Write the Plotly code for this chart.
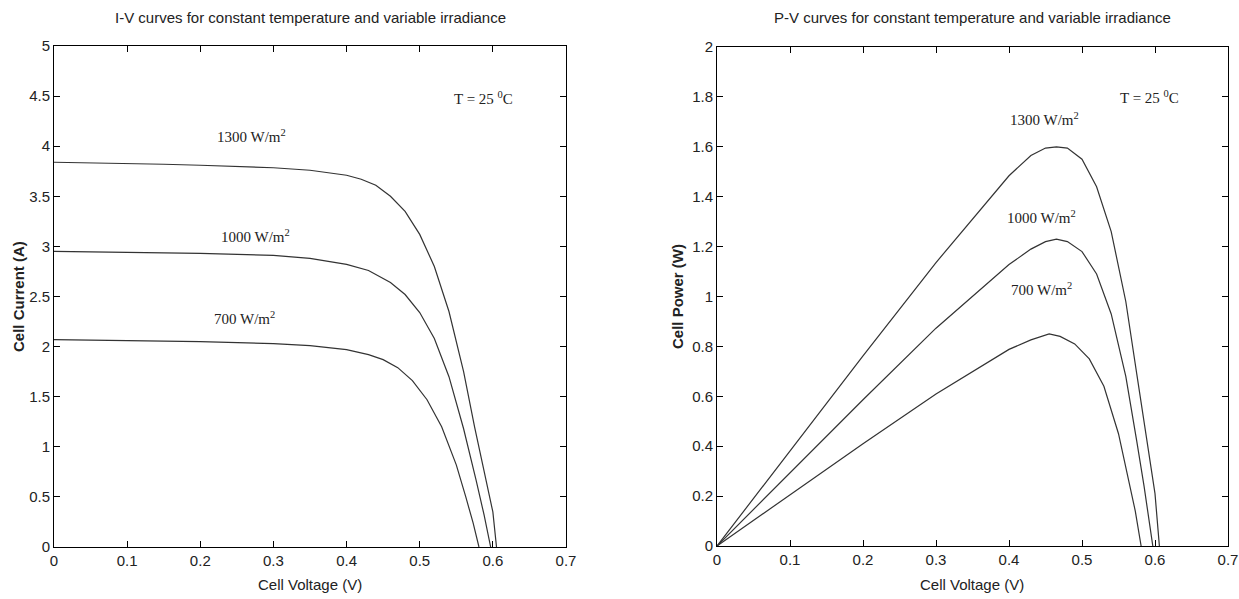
import plotly.graph_objects as go

# ---- data ----
v_iv_1300 = [0, 0.05, 0.1, 0.15, 0.2, 0.25, 0.3, 0.35, 0.4, 0.42, 0.44, 0.46, 0.48, 0.50, 0.52, 0.54, 0.56, 0.575, 0.59, 0.60, 0.605]
i_1300 = [3.84, 3.835, 3.83, 3.82, 3.81, 3.80, 3.785, 3.76, 3.71, 3.67, 3.61, 3.50, 3.35, 3.12, 2.80, 2.35, 1.75, 1.20, 0.67, 0.35, 0]

v_iv_1000 = [0, 0.1, 0.2, 0.3, 0.35, 0.4, 0.43, 0.46, 0.48, 0.50, 0.52, 0.54, 0.56, 0.577, 0.588, 0.597]
i_1000 = [2.95, 2.94, 2.93, 2.91, 2.88, 2.82, 2.76, 2.64, 2.52, 2.34, 2.08, 1.70, 1.18, 0.67, 0.32, 0]

v_iv_700 = [0, 0.1, 0.2, 0.3, 0.35, 0.4, 0.43, 0.45, 0.47, 0.49, 0.51, 0.53, 0.55, 0.563, 0.573, 0.581]
i_700 = [2.07, 2.06, 2.05, 2.03, 2.01, 1.97, 1.92, 1.87, 1.79, 1.66, 1.47, 1.20, 0.82, 0.50, 0.24, 0]

v_pv_1300 = [0, 0.1, 0.2, 0.3, 0.4, 0.43, 0.45, 0.465, 0.48, 0.50, 0.52, 0.54, 0.56, 0.575, 0.59, 0.60, 0.606]
p_1300 = [0, 0.383, 0.762, 1.136, 1.484, 1.565, 1.595, 1.60, 1.595, 1.55, 1.44, 1.26, 0.98, 0.69, 0.40, 0.21, 0]

v_pv_1000 = [0, 0.1, 0.2, 0.3, 0.4, 0.43, 0.45, 0.465, 0.48, 0.50, 0.52, 0.54, 0.56, 0.575, 0.585, 0.597]
p_1000 = [0, 0.294, 0.586, 0.873, 1.128, 1.19, 1.22, 1.23, 1.22, 1.18, 1.09, 0.93, 0.68, 0.42, 0.24, 0]

v_pv_700 = [0, 0.1, 0.2, 0.3, 0.4, 0.43, 0.455, 0.47, 0.49, 0.51, 0.53, 0.55, 0.563, 0.573, 0.581]
p_700 = [0, 0.206, 0.41, 0.609, 0.788, 0.826, 0.85, 0.84, 0.81, 0.75, 0.64, 0.45, 0.28, 0.14, 0]

x_ticks = [0, 0.1, 0.2, 0.3, 0.4, 0.5, 0.6, 0.7]
iv_yticks = [0, 0.5, 1, 1.5, 2, 2.5, 3, 3.5, 4, 4.5, 5]
iv_ytext = ["0", "0.5", "1", "1.5", "2", "2.5", "3", "3.5", "4", "4.5", "5"]
pv_yticks = [0, 0.2, 0.4, 0.6, 0.8, 1, 1.2, 1.4, 1.6, 1.8, 2]
pv_ytext = ["0", "0.2", "0.4", "0.6", "0.8", "1", "1.2", "1.4", "1.6", "1.8", "2"]

iv_labels = ["1300 W/m<sup>2</sup>", "1000 W/m<sup>2</sup>", "700 W/m<sup>2</sup>"]
temp_label = "T = 25 <sup>0</sup>C"

SANS = "Liberation Sans Narrow, Liberation Sans, Arial, sans-serif"
SERIF = "Liberation Serif, Times New Roman, serif"
LINE = dict(color="#333333", width=1.2)

fig = go.Figure()
for v, y in [(v_iv_1300, i_1300), (v_iv_1000, i_1000), (v_iv_700, i_700)]:
    fig.add_trace(go.Scatter(x=v, y=y, mode="lines", line=LINE, xaxis="x", yaxis="y", showlegend=False))
for v, y in [(v_pv_1300, p_1300), (v_pv_1000, p_1000), (v_pv_700, p_700)]:
    fig.add_trace(go.Scatter(x=v, y=y, mode="lines", line=LINE, xaxis="x2", yaxis="y2", showlegend=False))

W, H = 1239, 599
ax_common = dict(showgrid=False, zeroline=False, showline=True, linecolor="black", linewidth=1,
                 mirror="ticks", ticks="inside", ticklen=6, tickcolor="black", automargin=False,
                 ticklabeloverflow="allow",
                 tickfont=dict(family=SANS, size=15, color="#222"))

fig.update_layout(
    width=W, height=H, margin=dict(l=0, r=0, t=0, b=0, autoexpand=False),
    paper_bgcolor="white", plot_bgcolor="white",
    xaxis=dict(domain=[54 / W, 566 / W], range=[0, 0.7], tickvals=x_ticks,
               ticktext=[str(t) for t in x_ticks], anchor="y", **ax_common),
    yaxis=dict(domain=[1 - 547 / H, 1 - 46 / H], range=[0, 5], tickvals=iv_yticks,
               ticktext=iv_ytext, anchor="x", **ax_common),
    xaxis2=dict(domain=[717 / W, 1228 / W], range=[0, 0.7], tickvals=x_ticks,
                ticktext=[str(t) for t in x_ticks], anchor="y2", **ax_common),
    yaxis2=dict(domain=[1 - 546 / H, 1 - 47 / H], range=[0, 2], tickvals=pv_yticks,
                ticktext=pv_ytext, anchor="x2", **ax_common),
)

ann = []
tf = dict(family=SANS, size=15, color="#222")
# Titles
ann.append(dict(x=310 / W, y=1 - 18 / H, text="I-V curves for constant temperature and variable irradiance", font=tf))
ann.append(dict(x=972 / W, y=1 - 18 / H, text="P-V curves for constant temperature and variable irradiance", font=tf))
# x axis titles
for xc in (310, 972):
    ann.append(dict(x=xc / W, y=1 - 584 / H, text="Cell Voltage (V)", font=tf))
# y axis titles
bf = dict(family="Liberation Sans, Arial, sans-serif", size=15, color="#222")
ann.append(dict(x=18 / W, y=1 - 297 / H, textangle=-90, text="<b>Cell Current (A)</b>", font=bf))
ann.append(dict(x=677 / W, y=1 - 297 / H, textangle=-90, text="<b>Cell Power (W)</b>", font=bf))
for a in ann:
    a.update(xref="paper", yref="paper", showarrow=False, xanchor="center", yanchor="middle")

# curve labels
sf = dict(family=SERIF, size=15, color="#222")
lab = []
for (x, y, t) in [(0.27, 4.1, iv_labels[0]), (0.275, 3.1, iv_labels[1]), (0.261, 2.29, iv_labels[2])]:
    lab.append(dict(x=x, y=y, xref="x", yref="y", text=t))
lab.append(dict(x=0.587, y=4.48, xref="x", yref="y", text=temp_label))
for (x, y, t) in [(0.449, 1.71, iv_labels[0]), (0.445, 1.32, iv_labels[1]), (0.445, 1.03, iv_labels[2])]:
    lab.append(dict(x=x, y=y, xref="x2", yref="y2", text=t))
lab.append(dict(x=0.593, y=1.80, xref="x2", yref="y2", text=temp_label))
for a in lab:
    a.update(showarrow=False, font=sf, xanchor="center", yanchor="middle")

fig.update_layout(annotations=ann + lab)
fig.write_html("out.html", config={"displayModeBar": False},
               post_script="document.body.style.margin='0px';")
